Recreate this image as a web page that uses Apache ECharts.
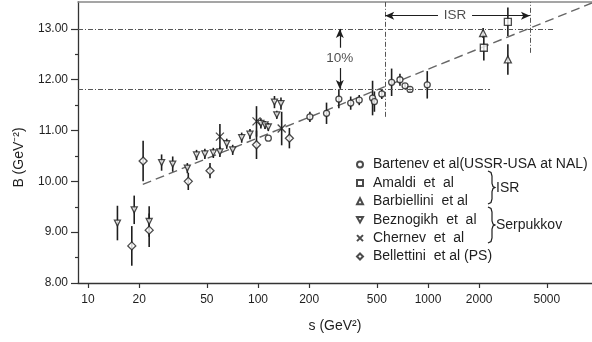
<!DOCTYPE html>
<html>
<head>
<meta charset="utf-8">
<script src="https://cdn.jsdelivr.net/npm/echarts@6/dist/echarts.min.js"></script>
<style>
    html, body { margin: 0; padding: 0; background: #fff; }
    #chart { width: 592px; height: 342px; }
</style>
</head>
<body>
<div id="chart"></div>
<script>
    // [s (GeV^2), B (GeV^-2), error]
    const bartenev = [[115, 10.85, 0], [202, 11.27, 0.1], [253, 11.34, 0.21], [299, 11.62, 0.18], [351, 11.54, 0.13],
        [394, 11.60, 0.1], [472, 11.64, 0.34], [484, 11.57, 0.2], [535, 11.72, 0.1], [611, 11.95, 0.27],
        [684, 12.0, 0.12], [733, 11.88, 0.05], [784, 11.81, 0.05], [990, 11.90, 0.27]];
    const amaldi = [[2130, 12.63, 0.25], [2950, 13.14, 0.28]];
    const barbiellini = [[2110, 12.92, 0.1], [2950, 12.40, 0.3]];
    const beznogikh = [[14.9, 9.18, 0.34], [18.7, 9.44, 0.28], [22.9, 9.21, 0.3], [27.1, 10.37, 0.16], [31.5, 10.34, 0.15],
        [38.4, 10.26, 0.1], [43.5, 10.52, 0.1], [48.7, 10.54, 0.1], [54.6, 10.56, 0.1], [59.7, 10.58, 0.1],
        [65.5, 10.74, 0.1], [71, 10.62, 0.1], [80.2, 10.86, 0.1], [89.7, 10.93, 0.1], [104, 11.14, 0.1],
        [110, 11.11, 0.08], [115, 11.07, 0.08], [125, 11.56, 0.12], [136.5, 11.53, 0.12], [129, 11.31, 0.08]];
    const chernev = [[59.7, 10.88, 0.25], [98, 11.18, 0.3], [137.8, 11.04, 0.33]];
    const bellettini = [[18.1, 8.73, 0.39], [21.1, 10.40, 0.40], [22.9, 9.04, 0.33], [38.9, 10.0, 0.17],
        [52.2, 10.21, 0.15], [98, 10.72, 0.28], [153, 10.85, 0.2]];

    // dashed fit line
    const fitS = [21, 9220];
    const fitB = [9.94, 13.51];

    const sTicks = [10, 20, 50, 100, 200, 500, 1000, 2000, 5000];
    const bTicks = [8, 9, 10, 11, 12, 13];
    const bMinorTicks = [8.5, 9.5, 10.5, 11.5, 12.5];

    const sMin = 8.734, sMax = 9220, bMin = 8, bMax = 13.53;
    const ink = '#1e1e1e';
    const font = 'Liberation Sans';

    function errorBars(data) {
        return {
            type: 'custom',
            data: data,
            z: 2,
            silent: true,
            encode: {x: 0, y: 1},
            renderItem: function (params, api) {
                let s = api.value(0), b = api.value(1), e = api.value(2);
                let top = api.coord([s, b + e]);
                let bot = api.coord([s, b - e]);
                return {
                    type: 'line',
                    shape: {x1: top[0], y1: top[1], x2: bot[0], y2: bot[1]},
                    style: {stroke: ink, lineWidth: 1.6}
                };
            }
        };
    }

    function markers(name, data, symbol, size) {
        return {
            name: name,
            type: 'scatter',
            data: data,
            z: 4,
            symbol: symbol,
            symbolSize: size,
            encode: {x: 0, y: 1},
            itemStyle: {color: '#fff', borderColor: ink, borderWidth: 1.3}
        };
    }

    const groups = [
        ['Bartenev et al(USSR-USA at NAL)', bartenev, 'circle', 6],
        ['Amaldi  et  al', amaldi, 'rect', 7],
        ['Barbiellini  et al', barbiellini, 'triangle', 7],
        ['Beznogikh  et  al', beznogikh, 'path://M0,0L10,0L5,9Z', 6],
        ['Chernev  et  al', chernev, 'path://M0,0L10,10M10,0L0,10', 8],
        ['Bellettini  et al (PS)', bellettini, 'diamond', 8]
    ];

    let series = [];
    groups.forEach(function (g) {
        series.push(errorBars(g[1]));
    });
    groups.forEach(function (g) {
        series.push(markers(g[0], g[1], g[2], g[3]));
    });

    // fit line
    series.push({
        type: 'line',
        data: fitS.map(function (s, i) { return [s, fitB[i]]; }),
        symbol: 'none',
        z: 1,
        lineStyle: {color: '#666', width: 1.4, type: [9, 5]}
    });

    // dash-dot guide lines (13.00, 13.00/1.1 and the ISR range)
    series.push({
        type: 'line',
        data: [],
        markLine: {
            silent: true,
            symbol: ['none', 'none'],
            label: {show: false},
            lineStyle: {color: '#555', width: 1, type: [5, 2, 1, 2]},
            data: [
                [{coord: [sMin, 13.0]}, {coord: [5585, 13.0]}],
                [{coord: [sMin, 11.82]}, {coord: [2317, 11.82]}],
                [{coord: [560, 11.27]}, {coord: [560, bMax]}],
                [{coord: [3980, 12.53]}, {coord: [3980, bMax]}]
            ]
        }
    });

    // arrows
    series.push({
        type: 'line',
        data: [],
        markLine: {
            silent: true,
            symbol: ['none', 'arrow'],
            symbolSize: [6, 9],
            label: {show: false},
            lineStyle: {color: ink, width: 1.2, type: 'solid'},
            data: [
                [{coord: [1145, 13.26]}, {coord: [560, 13.26]}],
                [{coord: [1816, 13.26]}, {coord: [3980, 13.26]}],
                [{coord: [303, 12.63]}, {coord: [303, 13.0]}],
                [{coord: [303, 12.23]}, {coord: [303, 11.82]}]
            ]
        }
    });

    // text annotations
    series.push({
        type: 'scatter',
        symbolSize: 0,
        silent: true,
        data: [{name: 'ISR', value: [1443, 13.26]}, {name: '10%', value: [303, 12.43]}],
        label: {show: true, position: 'inside', formatter: '{b}', color: ink, fontSize: 13.5, fontFamily: font}
    });

    function brace(x, y0, y1) {
        let m = (y0 + y1) / 2;
        return [[x, y0], [x + 3, y0 + 1.5], [x + 4, y0 + 5], [x + 4, m - 4], [x + 5, m - 1], [x + 7, m],
            [x + 5, m + 1], [x + 4, m + 4], [x + 4, y1 - 5], [x + 3, y1 - 1.5], [x, y1]];
    }

    const chart = echarts.init(document.getElementById('chart'));
    chart.setOption({
        animation: false,
        backgroundColor: '#fff',
        grid: {left: 78, right: 0, top: 2, bottom: 59},
        legend: {
            data: groups.map(function (g) { return g[0]; }),
            orient: 'vertical',
            left: 351,
            top: 152,
            itemWidth: 6,
            itemHeight: 6,
            itemGap: 3.4,
            selectedMode: false,
            textStyle: {color: ink, fontSize: 14, fontFamily: font, lineHeight: 15, padding: [0, 0, 0, 5]}
        },
        xAxis: [{
            type: 'log',
            logBase: 10,
            min: sMin,
            max: sMax,
            name: 's (GeV²)',
            nameLocation: 'middle',
            nameGap: 36,
            nameTextStyle: {color: ink, fontSize: 14, fontFamily: font},
            axisLine: {lineStyle: {color: '#333', width: 1.3}},
            axisTick: {show: true, length: 5, customValues: sTicks, lineStyle: {color: '#333', width: 1.2}},
            axisLabel: {
                customValues: sTicks, margin: 11, color: ink, fontSize: 12,
                fontFamily: 'Liberation Sans Narrow, Liberation Sans',
                formatter: function (v) { return String(Math.round(v)); }
            },
            splitLine: {show: false},
            minorTick: {show: false}
        }, {
            type: 'value',
            position: 'top',
            min: 0,
            max: 1,
            axisLine: {show: true, onZero: false, lineStyle: {color: '#888', width: 1.5}},
            axisTick: {show: false},
            axisLabel: {show: false},
            splitLine: {show: false}
        }],
        yAxis: [{
            type: 'value',
            min: bMin,
            max: bMax,
            interval: 1,
            name: 'B (GeV⁻²)',
            nameLocation: 'middle',
            nameGap: 52,
            nameRotate: 90,
            nameTextStyle: {color: ink, fontSize: 14, fontFamily: font, padding: [0, 30, 0, 0]},
            axisLine: {show: true, lineStyle: {color: '#333', width: 1.3}},
            axisTick: {show: true, length: 7, customValues: bTicks, lineStyle: {color: '#333', width: 1.2}},
            axisLabel: {
                customValues: bTicks, margin: 10, color: ink, fontSize: 12,
                fontFamily: 'Liberation Sans Narrow, Liberation Sans',
                formatter: function (v) { return v.toFixed(2); }
            },
            splitLine: {show: false}
        }, {
            type: 'value',
            position: 'left',
            min: bMin,
            max: bMax,
            axisLine: {show: false},
            axisTick: {show: true, length: 3, customValues: bMinorTicks, lineStyle: {color: '#333', width: 1.2}},
            axisLabel: {show: false},
            splitLine: {show: false}
        }],
        series: series,
        graphic: [{
            type: 'polyline',
            shape: {points: brace(488, 171, 204)},
            style: {fill: null, stroke: ink, lineWidth: 1.2}
        }, {
            type: 'text', x: 496, y: 188,
            style: {text: 'ISR', fill: ink, fontSize: 14, fontFamily: font, verticalAlign: 'middle'}
        }, {
            type: 'polyline',
            shape: {points: brace(488, 207, 243)},
            style: {fill: null, stroke: ink, lineWidth: 1.2}
        }, {
            type: 'text', x: 496, y: 225,
            style: {text: 'Serpukkov', fill: ink, fontSize: 14, fontFamily: font, verticalAlign: 'middle'}
        }]
    });
</script>
</body>
</html>
